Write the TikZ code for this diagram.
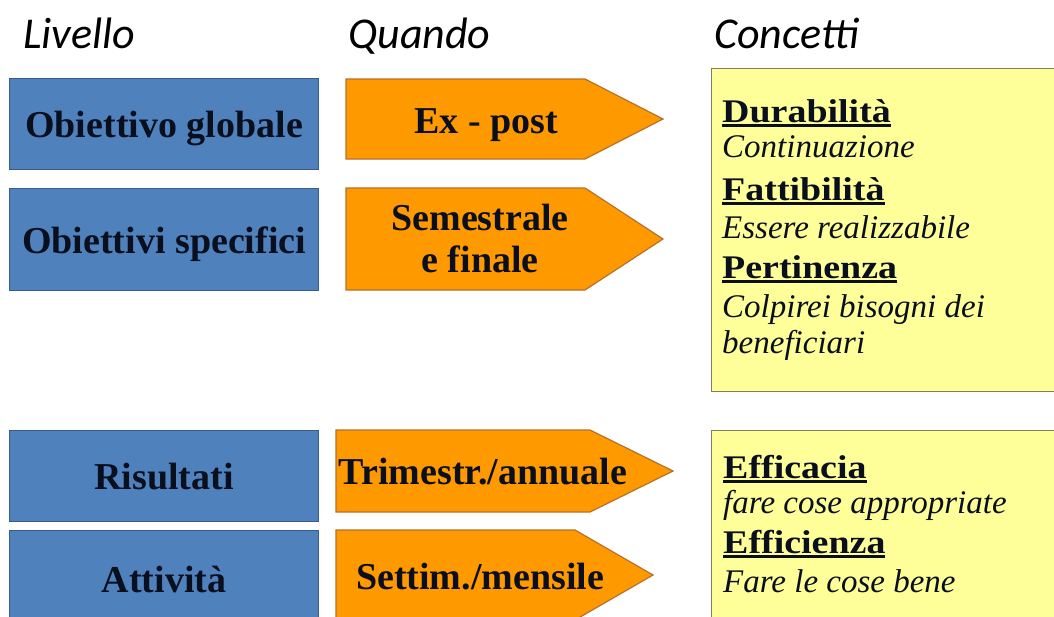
\documentclass[tikz,border=0pt]{standalone}
\usepackage{fontspec}
\setmainfont{Liberation Serif}
\newfontfamily\hdrfont{Carlito}
\newfontfamily\yfont{Liberation Serif}[FakeStretch=1.15]
\newfontfamily\yifont{Liberation Serif}
\definecolor{bluefill}{HTML}{4F81BD}
\definecolor{blueborder}{HTML}{385D8A}
\definecolor{orfill}{HTML}{FF9900}
\definecolor{orborder}{HTML}{B8702A}
\definecolor{yfill}{HTML}{FFFF99}
\definecolor{yborder}{HTML}{7F7F5F}
\definecolor{ink}{HTML}{0A0F1E}
\newcommand\myul[1]{\setbox0\hbox{#1}\rlap{\rule[-5pt]{\wd0}{2.6pt}}\box0}
\begin{document}
\begin{tikzpicture}[x=1pt,y=-1pt,
  hdr/.style={anchor=base west, inner sep=0pt, font=\hdrfont\itshape\fontsize{44}{48}\selectfont},
  lvl/.style={draw=blueborder, fill=bluefill, line width=1.2pt, anchor=north west,
    minimum width=309pt, inner sep=0pt, text=ink,
    font=\fontsize{38}{40}\selectfont\bfseries, text height=27pt, text depth=0pt},
  arrowshape/.style={draw=orborder, fill=orfill, line width=1.2pt, line join=miter},
  otext/.style={anchor=base, inner sep=0pt, text=ink, font=\fontsize{38}{40}\selectfont\bfseries},
  ybox/.style={draw=yborder, fill=yfill, line width=1.2pt, anchor=north west, minimum width=370pt, inner sep=0pt},
  ytitle/.style={anchor=base west, inner sep=0pt, text=ink, font=\yfont\bfseries\fontsize{33}{38}\selectfont},
  yitem/.style={anchor=base west, inner sep=0pt, text=ink, font=\yifont\itshape\fontsize{33}{38}\selectfont}
]
\useasboundingbox (0,0) rectangle (1054,616);
\clip (0,0) rectangle (1054,616);
\fill[white] (0,0) rectangle (1054,616);

% headers
\node[hdr] (hLiv) at (23,48) {Livello};
\node[hdr] (hQua) at (348,48) {Quando};
\node[hdr] (hCon) at (714,48) {Concetti};

% level boxes
\node[lvl, minimum height=91pt] (og) at (9,78) {Obiettivo globale};
\node[lvl, minimum height=102pt] (os) at (9,188) {Obiettivi specifici};
\node[lvl, minimum height=91pt] (ri) at (9,430) {Risultati};
\node[lvl, minimum height=96pt] (at) at (9,530) {Attività};

% when arrows
\draw[arrowshape] (346,79) -- (585,79) -- (663,119) -- (585,159) -- (346,159) -- cycle;
\node[otext] (w1) at (486,133) {Ex - post};
\draw[arrowshape] (346,188) -- (585,188) -- (663,239) -- (585,290) -- (346,290) -- cycle;
\node[otext] (w2a) at (480,230) {Semestrale};
\node[otext] (w2b) at (480,272) {e finale};
\draw[arrowshape] (336,430) -- (590,430) -- (673,471) -- (590,512) -- (336,512) -- cycle;
\node[otext] (w3) at (483,484) {Trimestr./annuale};
\draw[arrowshape] (336,530) -- (575,530) -- (653,575) -- (575,620) -- (336,620) -- cycle;
\node[otext] (w4) at (480,589) {Settim./mensile};

% concept boxes
\node[ybox, minimum height=323pt] (c1) at (711,68) {};
\node[ytitle] (d1) at (722,122) {\myul{Durabilità}};
\node[yitem]  (d2) at (722,157) {Continuazione};
\node[ytitle] (f1) at (722,200) {\myul{Fattibilità}};
\node[yitem]  (f2) at (722,238) {Essere realizzabile};
\node[ytitle] (p1) at (722,278) {\myul{Pertinenza}};
\node[yitem]  (p2) at (722,317) {Colpirei bisogni dei};
\node[yitem]  (p3) at (722,353) {beneficiari};

\node[ybox, minimum height=220pt] (c2) at (711,430) {};
\node[ytitle] (e1) at (723,478) {\myul{Efficacia}};
\node[yitem]  (e2) at (723,513) {fare cose appropriate};
\node[ytitle] (e3) at (723,553) {\myul{Efficienza}};
\node[yitem]  (e4) at (723,592) {Fare le cose bene};
\end{tikzpicture}
\end{document}
